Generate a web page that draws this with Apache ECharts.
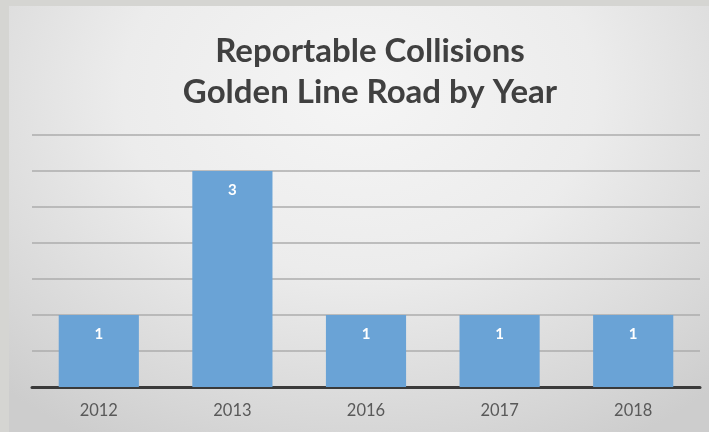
<!DOCTYPE html>
<html>
<head>
<meta charset="utf-8">
<script src="https://cdn.jsdelivr.net/npm/echarts@6/dist/echarts.min.js"></script>
<style>
  html, body { margin: 0; padding: 0; background: #d5d5d2; }
  #frame {
    position: absolute; left: 9px; top: 6px; width: 700px; height: 426px;
    background: radial-gradient(ellipse 75% 95% at 50% 20%, #f5f5f5 0%, #ececec 45%, #d6d6d6 85%, #cdcdcd 100%);
  }
  #echart { position: absolute; left: 0; top: 0; width: 709px; height: 432px; }
</style>
</head>
<body>
<div id="frame"></div>
<div id="echart"></div>
<script>
// data
const years = ["2012", "2013", "2016", "2017", "2018"];
const collisions = [1, 3, 1, 1, 1];
const titleLines = ["Reportable Collisions", "Golden Line Road by Year"];

const chart = echarts.init(document.getElementById("echart"));
chart.setOption({
  animation: false,
  title: {
    text: titleLines.join("\n"),
    left: 365,
    textAlign: "center",
    top: 26,
    textStyle: {
      fontFamily: "Lato",
      fontWeight: "bold",
      fontSize: 33,
      lineHeight: 41,
      color: "#404040"
    }
  },
  grid: { left: 32, right: 9, top: 135, bottom: 45 },
  xAxis: {
    type: "category",
    data: years,
    axisTick: { show: false },
    axisLine: { lineStyle: { color: "#3a3a3a", width: 3 } },
    axisLabel: { color: "#595959", fontSize: 16.5, fontFamily: "Lato", margin: 15 }
  },
  yAxis: {
    type: "value",
    min: 0,
    max: 3.5,
    interval: 0.5,
    axisLabel: { show: false },
    axisLine: { show: false },
    axisTick: { show: false },
    splitLine: { lineStyle: { color: "#acacac", width: 1.5 } }
  },
  series: [{
    type: "bar",
    data: collisions,
    barWidth: "60%",
    itemStyle: { color: "#6aa3d6" },
    label: {
      show: true,
      position: "insideTop",
      distance: 12,
      color: "#ffffff",
      fontWeight: "bold",
      fontSize: 15,
      fontFamily: "Lato"
    }
  }]
});
</script>
</body>
</html>
